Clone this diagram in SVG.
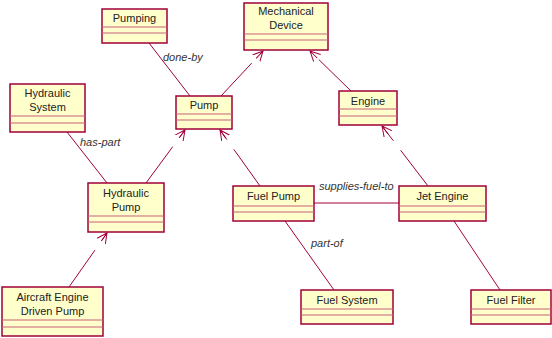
<svg xmlns="http://www.w3.org/2000/svg" width="552" height="338" viewBox="0 0 552 338">
<style>
.box{fill:#ffffcc;stroke:#a0003a;stroke-width:1.5}
.cmp{stroke:#c8607a;stroke-width:1.2}
.t{font-family:"Liberation Sans",Arial,sans-serif;font-size:11px;fill:#222;text-anchor:middle}
.lbl{font-family:"Liberation Sans",Arial,sans-serif;font-size:11px;font-style:italic;fill:#333}
.c{stroke:#a0003a;stroke-width:1;fill:none}
.d{stroke-dasharray:45 12;marker-end:url(#arr)}
</style>
<defs>
<marker id="arr" markerWidth="12" markerHeight="12" refX="10" refY="5" orient="auto" markerUnits="userSpaceOnUse" viewBox="0 0 12 10">
<path d="M0,0 L10,5 L0,10 M0,5 L10,5" fill="none" stroke="#a0003a" stroke-width="1"/>
</marker>
</defs>
<g id="connectors">
<line class="c" x1="149" y1="43" x2="190" y2="96"/>
<line class="c d" x1="221" y1="96" x2="263" y2="51"/>
<line class="c d" x1="351" y1="91" x2="310" y2="51"/>
<line class="c d" x1="146" y1="183" x2="185" y2="130"/>
<line class="c d" x1="260" y1="186" x2="220" y2="130"/>
<line class="c d" x1="428" y1="186" x2="382" y2="126"/>
<line class="c" x1="67" y1="132" x2="107" y2="183"/>
<line class="c d" x1="69" y1="287" x2="107" y2="233"/>
<line class="c" x1="314" y1="203" x2="399" y2="203"/>
<line class="c" x1="285" y1="221" x2="334" y2="290"/>
<line class="c" x1="454" y1="221" x2="500" y2="290"/>
<text class="lbl" x="163" y="61">done-by</text>
<text class="lbl" x="80" y="146">has-part</text>
<text class="lbl" x="319" y="190">supplies-fuel-to</text>
<text class="lbl" x="311" y="247">part-of</text>
</g>
<g id="pumping">
<rect class="box" x="102" y="9" width="65" height="34"/>
<line class="cmp" x1="102" y1="27" x2="167" y2="27"/><line class="cmp" x1="102" y1="33" x2="167" y2="33"/>
<text class="t" x="134.5" y="22">Pumping</text>
</g>
<g id="mechanical-device">
<rect class="box" x="244" y="3" width="84" height="47"/>
<line class="cmp" x1="244" y1="34" x2="328" y2="34"/><line class="cmp" x1="244" y1="40" x2="328" y2="40"/>
<text class="t" x="286" y="15">Mechanical</text>
<text class="t" x="286" y="29">Device</text>
</g>
<g id="hydraulic-system">
<rect class="box" x="10" y="84" width="75" height="48"/>
<line class="cmp" x1="10" y1="116" x2="85" y2="116"/><line class="cmp" x1="10" y1="123" x2="85" y2="123"/>
<text class="t" x="47.5" y="97">Hydraulic</text>
<text class="t" x="47.5" y="111">System</text>
</g>
<g id="pump">
<rect class="box" x="176" y="96" width="56" height="33"/>
<line class="cmp" x1="176" y1="114" x2="232" y2="114"/><line class="cmp" x1="176" y1="120" x2="232" y2="120"/>
<text class="t" x="204" y="109">Pump</text>
</g>
<g id="engine">
<rect class="box" x="339" y="91" width="58" height="34"/>
<line class="cmp" x1="339" y1="109" x2="397" y2="109"/><line class="cmp" x1="339" y1="116" x2="397" y2="116"/>
<text class="t" x="368" y="105">Engine</text>
</g>
<g id="hydraulic-pump">
<rect class="box" x="88" y="183" width="76" height="49"/>
<line class="cmp" x1="88" y1="216" x2="164" y2="216"/><line class="cmp" x1="88" y1="222" x2="164" y2="222"/>
<text class="t" x="126" y="197">Hydraulic</text>
<text class="t" x="126" y="211">Pump</text>
</g>
<g id="fuel-pump">
<rect class="box" x="233" y="186" width="81" height="35"/>
<line class="cmp" x1="233" y1="206" x2="314" y2="206"/><line class="cmp" x1="233" y1="212" x2="314" y2="212"/>
<text class="t" x="273.5" y="200">Fuel Pump</text>
</g>
<g id="jet-engine">
<rect class="box" x="399" y="186" width="87" height="35"/>
<line class="cmp" x1="399" y1="206" x2="486" y2="206"/><line class="cmp" x1="399" y1="212" x2="486" y2="212"/>
<text class="t" x="442.5" y="200">Jet Engine</text>
</g>
<g id="aircraft-engine-driven-pump">
<rect class="box" x="2" y="287" width="101" height="49"/>
<line class="cmp" x1="2" y1="320" x2="103" y2="320"/><line class="cmp" x1="2" y1="327" x2="103" y2="327"/>
<text class="t" x="52.5" y="301">Aircraft Engine</text>
<text class="t" x="52.5" y="315">Driven Pump</text>
</g>
<g id="fuel-system">
<rect class="box" x="301" y="290" width="92" height="34"/>
<line class="cmp" x1="301" y1="309" x2="393" y2="309"/><line class="cmp" x1="301" y1="315" x2="393" y2="315"/>
<text class="t" x="347" y="304">Fuel System</text>
</g>
<g id="fuel-filter">
<rect class="box" x="471" y="290" width="80" height="34"/>
<line class="cmp" x1="471" y1="309" x2="551" y2="309"/><line class="cmp" x1="471" y1="315" x2="551" y2="315"/>
<text class="t" x="511" y="304">Fuel Filter</text>
</g>
</svg>
